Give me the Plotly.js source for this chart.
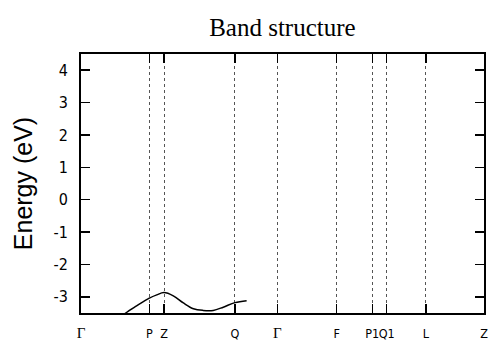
<!DOCTYPE html>
<html>
<head>
<meta charset="utf-8">
<script src="https://cdn.plot.ly/plotly-3.0.1.min.js"></script>
<style>html,body{margin:0;padding:0;background:#fff;}</style>
</head>
<body>
<div id="chart" style="width:492px;height:342px;"></div>
<script>
// High-symmetry points along the k-path (fractional path distance)
const kLabels = ['Γ', 'P', 'Z', 'Q', 'Γ', 'F', 'P1', 'Q1', 'L', 'Z'];
const kPositions = [0, 0.1695, 0.206, 0.382, 0.487, 0.6345, 0.7228, 0.7586, 0.856, 1.0];

// Band
const bandK = [0.097, 0.111, 0.138, 0.1695, 0.188, 0.206, 0.229, 0.254, 0.279, 0.303, 0.328, 0.353, 0.382, 0.411];
const bandE = [-3.65, -3.50, -3.28, -3.04, -2.94, -2.87, -2.97, -3.19, -3.37, -3.42, -3.42, -3.32, -3.18, -3.12];

const yTicks = [-3, -2, -1, 0, 1, 2, 3, 4];
const yTickLabels = ['-3', '-2', '-1', '0', '1', '2', '3', '4'];

const tickText = kLabels.map(l => l === 'Γ'
  ? '<span style="font-family:Liberation Serif, Times New Roman, serif;font-size:15px">Γ</span>' : l);

const data = [{
  x: bandK, y: bandE, type: 'scatter', mode: 'lines',
  line: {color: '#000', width: 1.5, shape: 'spline'},
  showlegend: false, hoverinfo: 'skip'
}];

const layout = {
  width: 492, height: 342,
  margin: {l: 81, r: 8, t: 54, b: 29, pad: 0},
  paper_bgcolor: '#fff', plot_bgcolor: '#fff',
  title: {text: 'Band structure', x: 0.574, xanchor: 'center', y: 0.92, yanchor: 'middle',
          font: {family: 'Liberation Serif, Times New Roman, serif', size: 25, color: '#000'}},
  xaxis: {
    range: [0, 1], tickmode: 'array', tickvals: kPositions, ticktext: tickText,
    ticks: 'inside', ticklen: 9, tickwidth: 1.5, tickcolor: '#000', tickangle: 0,
    showline: true, linecolor: '#000', linewidth: 2, mirror: 'ticks',
    showgrid: true, gridcolor: '#555', gridwidth: 1, griddash: 'dot',
    zeroline: false, ticklabelstandoff: 8,
    tickfont: {family: 'Liberation Sans Narrow, DejaVu Sans Condensed, Liberation Sans, sans-serif', size: 12.5, color: '#000'}
  },
  yaxis: {
    range: [-3.5, 4.5], tickmode: 'array', tickvals: yTicks, ticktext: yTickLabels,
    ticks: 'inside', ticklen: 9, tickwidth: 1.5, tickcolor: '#000',
    showline: true, linecolor: '#000', linewidth: 2, mirror: 'ticks',
    showgrid: false, zeroline: false, ticklabelstandoff: 8,
    tickfont: {family: 'Liberation Sans Narrow, DejaVu Sans Condensed, Liberation Sans, sans-serif', size: 16, color: '#000'},
    title: {text: 'Energy (eV)', standoff: 14,
            font: {family: 'Liberation Sans, Arial, sans-serif', size: 25, color: '#000'}}
  }
};

Plotly.newPlot('chart', data, layout, {displayModeBar: false, staticPlot: true});
</script>
</body>
</html>
